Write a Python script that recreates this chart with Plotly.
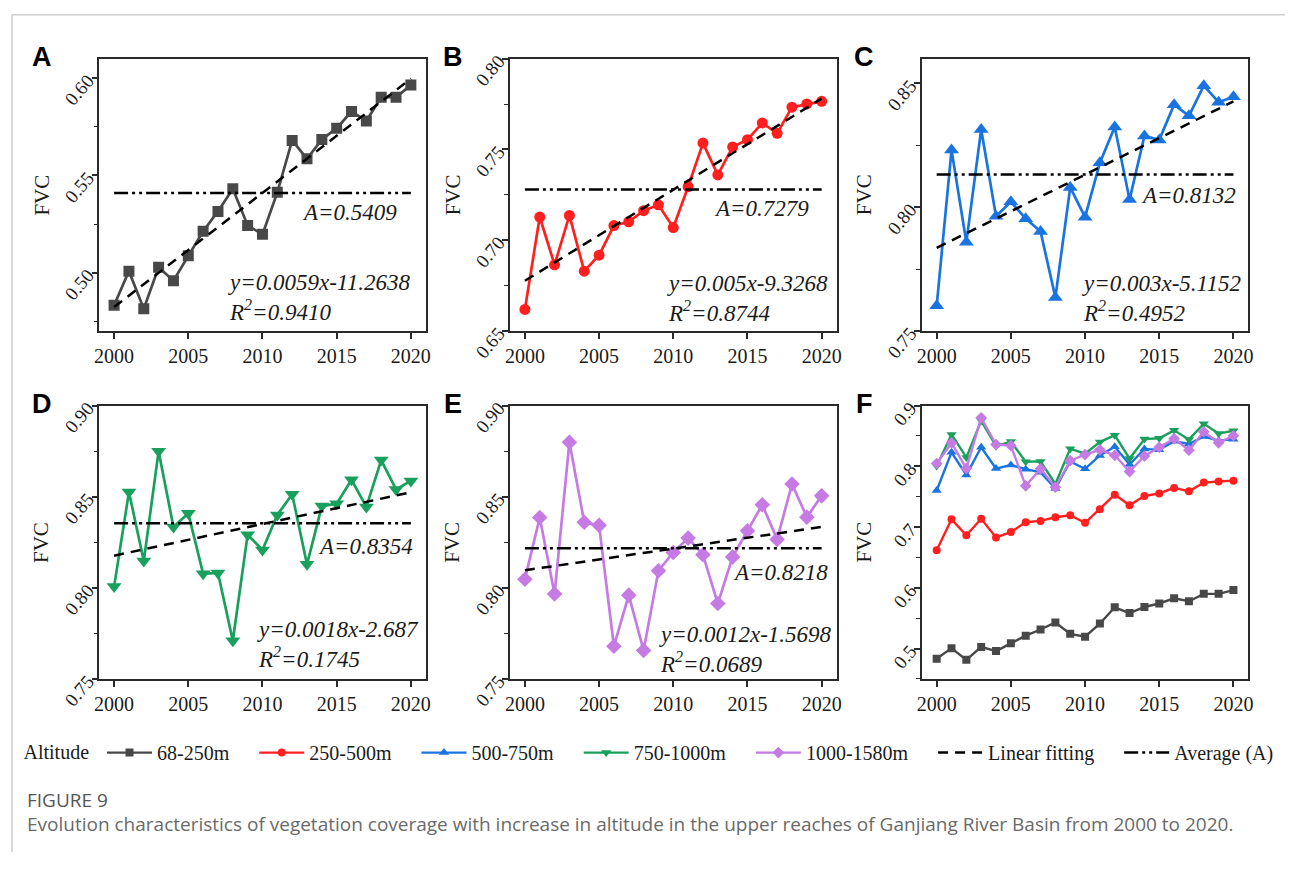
import numpy as np
import plotly.graph_objects as go

# ---------------- data ----------------
YEARS = list(range(2000, 2021))

FVC_68_250 = [0.4833, 0.5008, 0.4815, 0.5028, 0.4959, 0.5087, 0.5213, 0.5315, 0.5431, 0.5243,
              0.5197, 0.5413, 0.5680, 0.5585, 0.5685, 0.5743, 0.5828, 0.5780, 0.5902, 0.5902, 0.5964]
FVC_250_500 = [0.6619, 0.7128, 0.6865, 0.7137, 0.6830, 0.6918, 0.7081, 0.7102, 0.7163, 0.7195,
               0.7070, 0.7295, 0.7535, 0.7360, 0.7514, 0.7554, 0.7646, 0.7589, 0.7733, 0.7751, 0.7765]
FVC_500_750 = [0.7602, 0.8231, 0.7859, 0.8314, 0.7964, 0.8022, 0.7954, 0.7902, 0.7636, 0.8080,
               0.7960, 0.8180, 0.8324, 0.8031, 0.8288, 0.8272, 0.8414, 0.8369, 0.8491, 0.8424, 0.8446]
FVC_750_1000 = [0.8007, 0.8526, 0.8147, 0.8750, 0.8334, 0.8409, 0.8077, 0.8082, 0.7710, 0.8292,
                0.8208, 0.8400, 0.8514, 0.8129, 0.8449, 0.8462, 0.8593, 0.8444, 0.8701, 0.8540, 0.8587]
FVC_1000_1580 = [0.8047, 0.8386, 0.7967, 0.8799, 0.8360, 0.8343, 0.7680, 0.7960, 0.7657, 0.8094,
                 0.8194, 0.8273, 0.8182, 0.7914, 0.8170, 0.8313, 0.8456, 0.8266, 0.8570, 0.8388, 0.8505]

SERIES_NAMES = ["68-250m", "250-500m", "500-750m", "750-1000m", "1000-1580m"]
SERIES_VALUES = [FVC_68_250, FVC_250_500, FVC_500_750, FVC_750_1000, FVC_1000_1580]
AVERAGES = [0.5409, 0.7279, 0.8132, 0.8354, 0.8218]
EQUATIONS = ["y=0.0059x-11.2638", "y=0.005x-9.3268", "y=0.003x-5.1152",
             "y=0.0018x-2.687", "y=0.0012x-1.5698"]
R_SQUARED = ["0.9410", "0.8744", "0.4952", "0.1745", "0.0689"]
PANEL_LABELS = ["A", "B", "C", "D", "E", "F"]
LEGEND_TITLE = "Altitude"
FIT_NAME = "Linear fitting"
AVG_NAME = "Average (A)"
Y_TITLE = "FVC"
CAPTION_HEAD = "FIGURE 9"
CAPTION_TEXT = ("Evolution characteristics of vegetation coverage with increase in altitude "
                "in the upper reaches of Ganjiang River Basin from 2000 to 2020.")

# ---------------- styles ----------------
COLORS = ["#484848", "#ff1f1f", "#1a74e0", "#19a05c", "#c57be3"]
SYMBOLS = ["square", "circle", "triangle-up", "triangle-down", "diamond"]
MSIZE = [11, 11, 13, 13, 12]
MSIZE_F = [8, 8, 9, 9, 9]
Y_RANGES = [[0.47, 0.61], [0.65, 0.80], [0.75, 0.86], [0.75, 0.90], [0.75, 0.90], [0.45, 0.90]]
SERIF = "Liberation Serif"
W, H = 1290, 883
PAD = "\u00a0\u00a0\u00a0\u00a0"

COL_PX = [(95, 424), (509, 838), (924, 1253)]
ROW_PX = [(53, 338), (416, 702)]
AVG_TXT_X = [0.918, 0.923, 0.970, 0.967, 0.981]
AVG_TXT_SHIFT = [-19, -19, -21, -23, -24]
EQ_X = [0.389, 0.474, 0.483, 0.477, 0.450]
EQ_Y = [0.125, 0.119, 0.121, 0.126, 0.108]

fig = go.Figure()
years = np.array(YEARS)

for p in range(6):
    col, row = p % 3, p // 3
    ax = "" if p == 0 else str(p + 1)
    xa, ya = "x" + ax, "y" + ax
    x0, x1 = COL_PX[col]
    y0, y1 = ROW_PX[row]
    fig.layout["xaxis" + ax] = dict(
        domain=[x0 / W, x1 / W], anchor=ya, range=[1999, 2021], dtick=5, tick0=2000,
        showline=True, mirror=True, linecolor="#2a2a2a", linewidth=1.5,
        ticks="outside", ticklen=6, tickwidth=1.5, tickcolor="#2a2a2a",
        showgrid=False, zeroline=False,
        tickfont=dict(family=SERIF, size=20, color="#1a1a1a"))
    fig.layout["yaxis" + ax] = dict(
        domain=[1 - y1 / H, 1 - y0 / H], anchor=xa, range=Y_RANGES[p],
        dtick=0.1 if p == 5 else 0.05, tickformat=".1f" if p == 5 else ".2f",
        tickangle=-50,
        showline=True, mirror=True, linecolor="#2a2a2a", linewidth=1.5,
        ticks="outside", ticklen=6, tickwidth=1.5, tickcolor="#2a2a2a",
        minor=dict(ticks="outside", ticklen=4, tickwidth=1.2, tickcolor="#2a2a2a",
                   dtick=0.05 if p == 5 else 0.025),
        showgrid=False, zeroline=False,
        tickfont=dict(family=SERIF, size=19, color="#1a1a1a"))

    # panel letter
    fig.add_annotation(xref="paper", yref="paper", x=(x0 - 58) / W, y=1 - (y0 - 2) / H,
                       text="<b>%s</b>" % PANEL_LABELS[p], showarrow=False,
                       font=dict(family="Liberation Sans", size=27, color="#000"),
                       xanchor="center", yanchor="middle")
    # y title
    fig.add_annotation(xref="paper", yref="paper", x=(x0 - 58) / W, y=1 - (y0 + y1) / 2 / H,
                       text=Y_TITLE, textangle=-90, showarrow=False,
                       font=dict(family=SERIF, size=21, color="#1a1a1a"),
                       xanchor="center", yanchor="middle")

    if p < 5:
        vals = np.array(SERIES_VALUES[p])
        fig.add_trace(go.Scatter(
            x=YEARS, y=SERIES_VALUES[p], xaxis=xa, yaxis=ya, mode="lines+markers",
            line=dict(color=COLORS[p], width=2.7),
            marker=dict(symbol=SYMBOLS[p], size=MSIZE[p], color=COLORS[p]),
            showlegend=False, name=SERIES_NAMES[p]))
        slope, icpt = np.polyfit(years, vals, 1)
        fit = slope * years + icpt
        fig.add_trace(go.Scatter(
            x=YEARS, y=fit.tolist(), xaxis=xa, yaxis=ya, mode="lines",
            line=dict(color="#000", width=2.5, dash="10px,7px"),
            name=FIT_NAME, showlegend=False))
        fig.add_trace(go.Scatter(
            x=[YEARS[0], YEARS[-1]], y=[AVERAGES[p], AVERAGES[p]], xaxis=xa, yaxis=ya,
            mode="lines", line=dict(color="#000", width=2.5, dash="14px,4px,3px,4px,3px,4px"),
            name=AVG_NAME, showlegend=False))
        fig.add_annotation(xref=xa + " domain", yref=ya, x=AVG_TXT_X[p], y=AVERAGES[p],
                           yshift=AVG_TXT_SHIFT[p],
                           text="<i>A=%.4f</i>" % AVERAGES[p], showarrow=False,
                           xanchor="right", yanchor="middle",
                           font=dict(family=SERIF, size=23, color="#1a1a1a"))
        fig.add_annotation(xref=xa + " domain", yref=ya + " domain", x=EQ_X[p], y=EQ_Y[p],
                           text="<i>%s<br>R<sup>2</sup>=%s</i>" % (EQUATIONS[p], R_SQUARED[p]),
                           showarrow=False, xanchor="left", yanchor="middle", align="left",
                           font=dict(family=SERIF, size=23, color="#1a1a1a"))
    else:
        for s in range(5):
            fig.add_trace(go.Scatter(
                x=YEARS, y=SERIES_VALUES[s], xaxis=xa, yaxis=ya, mode="lines+markers",
                line=dict(color=COLORS[s], width=2.4),
                marker=dict(symbol=SYMBOLS[s], size=MSIZE_F[s], color=COLORS[s]),
                name=SERIES_NAMES[s] + PAD, showlegend=True, legendrank=1000 + s))

# legend-only entries for fit / average lines
fig.add_trace(go.Scatter(x=[None], y=[None], mode="lines", name=FIT_NAME + PAD,
                         line=dict(color="#000", width=2.5, dash="10px,7px"),
                         legendrank=1006))
fig.add_trace(go.Scatter(x=[None], y=[None], mode="lines", name=AVG_NAME,
                         line=dict(color="#000", width=2.5, dash="14px,4px,3px,4px,3px,4px"),
                         legendrank=1007))

# caption
fig.add_annotation(xref="paper", yref="paper", x=20 / W, y=1 - 829 / H, text=CAPTION_HEAD,
                   showarrow=False, xanchor="left", yanchor="middle",
                   font=dict(family="Open Sans", size=19, color="#555"))
fig.add_annotation(xref="paper", yref="paper", x=20 / W, y=1 - 854 / H, text=CAPTION_TEXT,
                   showarrow=False, xanchor="left", yanchor="middle",
                   font=dict(family="Open Sans", size=19, color="#6a6a6a"))

# page border lines
fig.add_shape(type="line", xref="paper", yref="paper", x0=7 / W, x1=1, y0=1 - 7 / H, y1=1 - 7 / H,
              line=dict(color="#cfcfcf", width=1.5))
fig.add_shape(type="line", xref="paper", yref="paper", x0=7 / W, x1=7 / W, y0=0, y1=1 - 7 / H,
              line=dict(color="#cfcfcf", width=1.5))

fig.update_layout(
    width=W, height=H, autosize=False, margin=dict(l=0, r=0, t=0, b=0, pad=0),
    paper_bgcolor="white", plot_bgcolor="white",
    legend=dict(orientation="h", x=650 / W, xanchor="center", y=1 - 779 / H, yanchor="middle",
                font=dict(family=SERIF, size=20, color="#1a1a1a"),
                title=dict(text=LEGEND_TITLE + "\u00a0", side="left",
                           font=dict(family=SERIF, size=20, color="#1a1a1a")),
                itemwidth=45, bgcolor="rgba(0,0,0,0)"),
    font=dict(family=SERIF),
)

POST = ("document.documentElement.style.margin='0';document.body.style.margin='0';"
        "document.body.style.padding='0';document.body.style.overflow='hidden';"
        "var gd=document.getElementsByClassName('plotly-graph-div')[0];"
        "gd.style.position='absolute';gd.style.left='0px';gd.style.top='0px';"
        "Plotly.relayout(gd,{width:%d,height:%d});" % (W, H))

fig.write_html("out.html", config={"displayModeBar": False, "responsive": False},
               post_script=POST)
